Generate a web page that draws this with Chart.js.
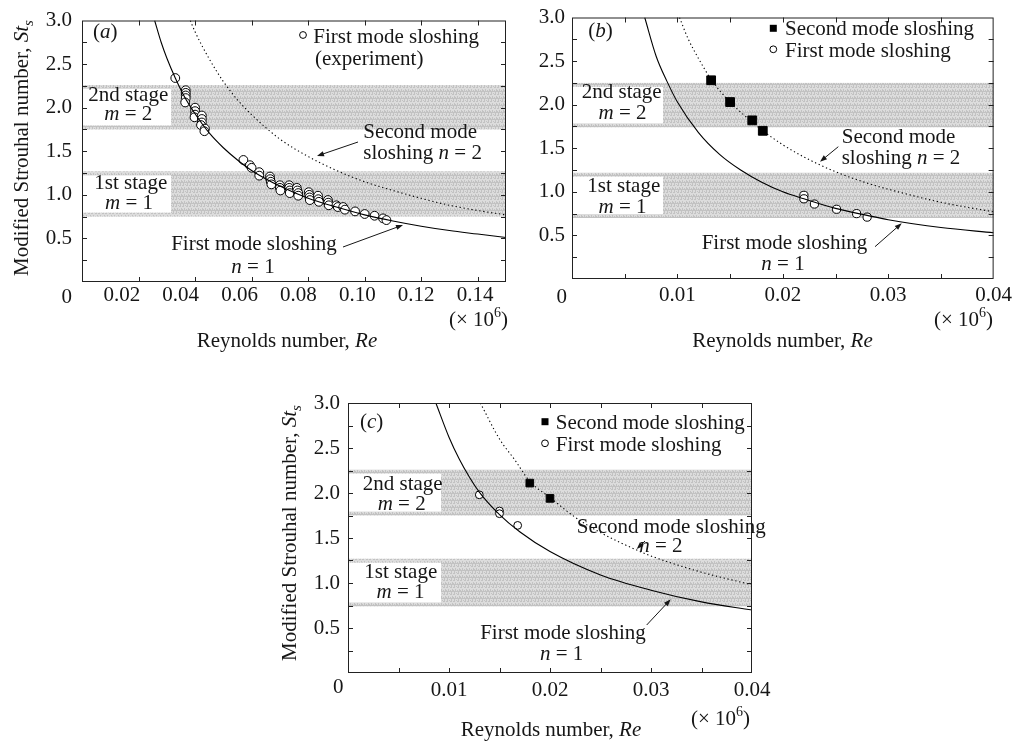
<!DOCTYPE html>
<html>
<head>
<meta charset="utf-8">
<script src="https://cdn.jsdelivr.net/npm/chart.js@4.4.1/dist/chart.umd.min.js"></script>
<style>
  html, body { margin: 0; padding: 0; background: #fff; }
  body { width: 1018px; height: 741px; position: relative; overflow: hidden; }
  canvas { position: absolute; }
</style>
</head>
<body>
<canvas id="panelA" width="512" height="360" style="left:0;top:0;width:512px;height:360px"></canvas>
<canvas id="panelB" width="506" height="360" style="left:512px;top:0;width:506px;height:360px"></canvas>
<canvas id="panelC" width="530" height="381" style="left:250px;top:360px;width:530px;height:381px"></canvas>
<script>
// ---- (a) experiment: first mode sloshing ----
const reA = [0.0330,
  0.0367, 0.0367, 0.0367, 0.0367, 0.0365,
  0.0400, 0.0400, 0.0400, 0.0398,
  0.0424, 0.0424, 0.0424, 0.0421,
  0.0435, 0.0433,
  0.0571, 0.0594, 0.0600,
  0.0627, 0.0627,
  0.0665, 0.0666, 0.0668, 0.0670,
  0.0700, 0.0700, 0.0702,
  0.0733, 0.0733, 0.0735, 0.0735,
  0.0760, 0.0762, 0.0765, 0.0765,
  0.0802, 0.0804, 0.0805, 0.0806,
  0.0835, 0.0836, 0.0838,
  0.0870, 0.0871, 0.0873,
  0.0900, 0.0905,
  0.0924, 0.0930,
  0.0966, 0.1000, 0.1035, 0.1065, 0.1077];
const stA = [2.34,
  2.20, 2.17, 2.14, 2.11, 2.06,
  2.00, 1.96, 1.92, 1.89,
  1.91, 1.87, 1.83, 1.80,
  1.76, 1.73,
  1.40, 1.34, 1.31,
  1.26, 1.22,
  1.21, 1.18, 1.15, 1.12,
  1.11, 1.08, 1.05,
  1.11, 1.08, 1.05, 1.02,
  1.08, 1.05, 1.02, 0.99,
  1.03, 1.00, 0.97, 0.94,
  0.99, 0.95, 0.92,
  0.94, 0.91, 0.88,
  0.88, 0.86,
  0.86, 0.83,
  0.81, 0.78, 0.76, 0.73, 0.71];
// (a) theory curves, n = 1 and n = 2
const reA1 = [0.0257, 0.028, 0.030, 0.033, 0.036, 0.040, 0.045, 0.050, 0.055, 0.060, 0.070, 0.080, 0.090, 0.100, 0.110, 0.120, 0.130, 0.140, 0.150];
const stA1 = [3.00, 2.75, 2.57, 2.34, 2.14, 1.93, 1.71, 1.54, 1.40, 1.28, 1.10, 0.96, 0.86, 0.77, 0.70, 0.64, 0.59, 0.55, 0.51];
const reA2 = [0.0383, 0.040, 0.045, 0.050, 0.055, 0.060, 0.070, 0.080, 0.090, 0.100, 0.110, 0.120, 0.130, 0.140, 0.150];
const stA2 = [3.00, 2.87, 2.56, 2.30, 2.09, 1.92, 1.64, 1.44, 1.28, 1.15, 1.05, 0.96, 0.88, 0.82, 0.77];
const bandsA = [[0.75, 1.27], [1.75, 2.26]];

// ---- (b) ----
const reB1 = [0.0069, 0.0080, 0.0090, 0.0100, 0.0120, 0.0140, 0.0160, 0.0180, 0.0200, 0.0220, 0.0250, 0.0280, 0.0300, 0.0350, 0.0400];
const stB1 = [3.00, 2.55, 2.27, 2.03, 1.68, 1.43, 1.25, 1.11, 1.00, 0.92, 0.81, 0.73, 0.68, 0.59, 0.53];
const reB2 = [0.0102, 0.0110, 0.0120, 0.0132, 0.0150, 0.0170, 0.0180, 0.0200, 0.0220, 0.0250, 0.0280, 0.0300, 0.0350, 0.0400];
const stB2 = [3.00, 2.76, 2.53, 2.29, 2.03, 1.81, 1.71, 1.54, 1.40, 1.23, 1.10, 1.03, 0.88, 0.77];
const reBsecond = [0.0132, 0.0150, 0.0171, 0.0181];
const stBsecond = [2.28, 2.03, 1.82, 1.70];
const reBfirst = [0.0220, 0.0220, 0.0230, 0.0251, 0.0270, 0.0280];
const stBfirst = [0.96, 0.92, 0.86, 0.80, 0.75, 0.71];
const bandsB = [[0.70, 1.22], [1.74, 2.25]];

// ---- (c) ----
const reC1 = [0.0087, 0.0100, 0.0110, 0.0120, 0.0130, 0.0150, 0.0170, 0.0200, 0.0250, 0.0300, 0.0350, 0.0400];
const stC1 = [3.00, 2.62, 2.38, 2.18, 2.01, 1.76, 1.57, 1.35, 1.09, 0.92, 0.79, 0.70];
const reC2 = [0.0131, 0.0150, 0.0165, 0.0180, 0.0200, 0.0225, 0.0250, 0.0285, 0.0300, 0.0350, 0.0400];
const stC2 = [3.00, 2.60, 2.37, 2.13, 1.95, 1.73, 1.56, 1.37, 1.30, 1.12, 0.98];
const reCsecond = [0.0180, 0.0200];
const stCsecond = [2.11, 1.94];
const reCfirst = [0.0130, 0.0150, 0.0150, 0.0168];
const stCfirst = [1.98, 1.80, 1.77, 1.64];
const bandsC = [[0.74, 1.27], [1.75, 2.26]];

const INK = '#161616';
const SERIF = '"Liberation Serif", "Times New Roman", serif';
Chart.defaults.font.family = SERIF;
Chart.defaults.font.size = 21;
Chart.defaults.color = INK;

const RUNSTYLE = {
  n:   { size: 21, italic: false, dy: 0 },
  i:   { size: 21, italic: true,  dy: 0 },
  sub: { size: 15, italic: true,  dy: 5 },
  sup: { size: 14, italic: false, dy: -9 }
};
const fontOf = s => (s.italic ? 'italic ' : '') + s.size + 'px ' + SERIF;

// "*x*" italic, "_{x}" subscript, "^{x}" superscript
function parseRuns(str) {
  const runs = [];
  const re = /\*([^*]+)\*|_\{([^}]+)\}|\^\{([^}]+)\}|([^*_^]+)/g;
  let m;
  while ((m = re.exec(str))) {
    if (m[1]) runs.push([m[1], 'i']);
    else if (m[2]) runs.push([m[2], 'sub']);
    else if (m[3]) runs.push([m[3], 'sup']);
    else runs.push([m[4], 'n']);
  }
  return runs;
}

function drawRich(ctx, str, x, y, align) {
  const runs = parseRuns(str);
  let w = 0;
  runs.forEach(([t, s]) => { ctx.font = fontOf(RUNSTYLE[s]); w += ctx.measureText(t).width; });
  let cx = align === 'center' ? x - w / 2 : align === 'right' ? x - w : x;
  ctx.textAlign = 'left';
  ctx.textBaseline = 'alphabetic';
  ctx.fillStyle = INK;
  runs.forEach(([t, s]) => {
    const st = RUNSTYLE[s];
    ctx.font = fontOf(st);
    ctx.fillText(t, cx, y + st.dy);
    cx += ctx.measureText(t).width;
  });
}

function arrow(ctx, x0, y0, x1, y1) {
  const a = Math.atan2(y1 - y0, x1 - x0), L = 7, W = 2.6;
  const c = Math.cos(a), s = Math.sin(a);
  ctx.beginPath();
  ctx.moveTo(x0, y0);
  ctx.lineTo(x1 - L * 0.7 * c, y1 - L * 0.7 * s);
  ctx.stroke();
  ctx.beginPath();
  ctx.moveTo(x1, y1);
  ctx.lineTo(x1 - L * c + W * s, y1 - L * s - W * c);
  ctx.lineTo(x1 - L * c - W * s, y1 - L * s + W * c);
  ctx.closePath();
  ctx.fill();
}

// fine halftone grey for the stage bands
function bandPattern(ctx) {
  const n = 7;
  const c = document.createElement('canvas');
  c.width = n; c.height = n;
  const g = c.getContext('2d');
  g.fillStyle = '#dcdcdc';
  g.fillRect(0, 0, n, n);
  g.fillStyle = '#c2c2c2';
  for (let i = 0; i < n; i++) {
    for (let j = 0; j < n; j++) {
      if ((i * 3 + j * 5 + ((i * j) % 4)) % 3 === 0) g.fillRect(i, j, 1, 1);
    }
  }
  return ctx.createPattern(c, 'repeat');
}

const toPoints = (xs, ys) => xs.map((x, i) => ({ x, y: ys[i] }));

// shaded stage bands, frame, inward ticks and all the lettering
function decor(p) {
  return {
    id: 'decor',
    beforeDatasetsDraw(chart) {
      const { ctx, chartArea: a, scales: { y } } = chart;
      ctx.save();
      p.bands.forEach(([lo, hi]) => {
        const top = y.getPixelForValue(hi), bot = y.getPixelForValue(lo);
        ctx.fillStyle = bandPattern(ctx);
        ctx.fillRect(a.left, top, a.right - a.left, bot - top);
        // white plate behind the stage caption
        ctx.fillStyle = '#fff';
        ctx.fillRect(a.left + 1, top + 4, p.plateW, bot - top - 8);
      });
      ctx.restore();
    },
    afterDatasetsDraw(chart) {
      const { ctx, chartArea: a, scales: { x, y } } = chart;
      ctx.save();
      ctx.strokeStyle = '#222';
      ctx.lineWidth = 1;
      ctx.strokeRect(a.left + 0.5, a.top + 0.5, a.right - a.left - 1, a.bottom - a.top - 1);
      ctx.beginPath();
      x.ticks.forEach(t => {
        const px = Math.round(x.getPixelForValue(t.value)) + 0.5;
        if (px <= a.left + 1 || px >= a.right - 1) return;
        ctx.moveTo(px, a.bottom); ctx.lineTo(px, a.bottom - 5);
        ctx.moveTo(px, a.top); ctx.lineTo(px, a.top + 5);
      });
      y.ticks.forEach(t => {
        const py = Math.round(y.getPixelForValue(t.value)) + 0.5;
        if (py <= a.top + 1 || py >= a.bottom - 1) return;
        ctx.moveTo(a.left, py); ctx.lineTo(a.left + 5, py);
        ctx.moveTo(a.right, py); ctx.lineTo(a.right - 5, py);
      });
      ctx.stroke();
      ctx.restore();
    },
    afterDraw(chart) {
      const ctx = chart.ctx;
      ctx.save();
      p.texts.forEach(t => {
        if (t.rot) {
          ctx.save();
          ctx.translate(t.x, t.y);
          ctx.rotate(-Math.PI / 2);
          drawRich(ctx, t.t, 0, 0, 'center');
          ctx.restore();
        } else {
          drawRich(ctx, t.t, t.x, t.y, t.align || 'left');
        }
      });
      ctx.strokeStyle = INK;
      ctx.fillStyle = INK;
      ctx.lineWidth = 1;
      p.arrows.forEach(r => arrow(ctx, r[0], r[1], r[2], r[3]));
      // legend glyphs
      p.keys.forEach(k => {
        ctx.lineWidth = 1;
        if (k.kind === 'square') {
          ctx.fillStyle = '#000';
          ctx.fillRect(k.x - 3.5, k.y - 3.5, 7, 7);
        } else {
          ctx.beginPath();
          ctx.arc(k.x, k.y, 3.4, 0, Math.PI * 2);
          ctx.fillStyle = '#fff';
          ctx.fill();
          ctx.strokeStyle = '#000';
          ctx.stroke();
        }
      });
      ctx.restore();
    }
  };
}

function buildPanel(p) {
  const tickFont = { family: SERIF, size: 21, lineHeight: 1 };
  const datasets = [
    {
      label: 'First mode sloshing, n = 1',
      data: toPoints(p.re1, p.st1),
      showLine: true, pointRadius: 0, borderColor: '#000', borderWidth: 1.1,
      cubicInterpolationMode: 'monotone'
    },
    {
      label: 'Second mode sloshing, n = 2',
      data: toPoints(p.re2, p.st2),
      showLine: true, pointRadius: 0, borderColor: '#000', borderWidth: 1.1,
      borderDash: [1.3, 2.7], cubicInterpolationMode: 'monotone'
    }
  ];
  if (p.reSecond) {
    datasets.push({
      label: 'Second mode sloshing',
      data: toPoints(p.reSecond, p.stSecond),
      showLine: false, pointStyle: 'rect', pointRadius: p.sqR,
      pointBackgroundColor: '#000', pointBorderColor: '#000', pointBorderWidth: 1
    });
  }
  datasets.push({
    label: 'First mode sloshing',
    data: toPoints(p.reFirst, p.stFirst),
    showLine: false, pointStyle: 'circle', pointRadius: p.ciR,
    pointBackgroundColor: '#fff', pointBorderColor: '#000', pointBorderWidth: 1
  });

  const scales = {
    x: {
      type: 'linear', position: 'bottom', min: 0, max: p.xMax,
      grid: { display: false, drawTicks: false }, border: { display: false },
      ticks: {
        stepSize: p.xStep, includeBounds: false, autoSkip: false, maxRotation: 0,
        display: !p.labelAxis, padding: p.xPad, font: tickFont, color: INK,
        callback: v => {
          const k = Math.round(v * 1000);
          return k !== 0 && k % 10 === 0 ? v.toFixed(2) : '';
        }
      },
      afterFit: s => { s.height = p.labelAxis ? 0 : p.xH; }
    },
    y: {
      type: 'linear', position: 'left', min: 0, max: 3,
      grid: { display: false, drawTicks: false }, border: { display: false },
      ticks: {
        stepSize: 0.25, autoSkip: false, padding: p.yPad, font: tickFont, color: INK,
        callback: v => {
          const k = Math.round(v * 100);
          return k !== 0 && k % 50 === 0 ? v.toFixed(1) : '';
        }
      },
      afterFit: s => { s.width = p.yW; }
    }
  };
  if (p.labelAxis) {
    // tick numbers of panel (a) sit on their own, slightly wider spacing
    scales.xl = {
      type: 'linear', position: 'bottom', min: p.labelAxis[0], max: p.labelAxis[1],
      grid: { display: false, drawTicks: false }, border: { display: false },
      ticks: {
        stepSize: 0.02, includeBounds: false, autoSkip: false, maxRotation: 0,
        padding: p.xPad, font: tickFont, color: INK,
        callback: v => v.toFixed(2)
      },
      afterFit: s => { s.height = p.xH; }
    };
  }

  return new Chart(document.getElementById(p.canvas), {
    type: 'scatter',
    data: { datasets },
    options: {
      responsive: false,
      animation: false,
      events: [],
      layout: { padding: { top: p.padTop, right: p.padRight, left: 0, bottom: 0 } },
      plugins: { legend: { display: false }, tooltip: { enabled: false } },
      scales
    },
    plugins: [decor(p)]
  });
}

buildPanel({
  canvas: 'panelA', xMax: 0.15, xStep: 0.02, labelAxis: [0.0065, 0.1505],
  yW: 82, xH: 78, padTop: 13, padRight: 6, yPad: 10, xPad: 3,
  re1: reA1, st1: stA1, re2: reA2, st2: stA2,
  reFirst: reA, stFirst: stA, ciR: 4.4,
  bands: bandsA, plateW: 88,
  texts: [
    { t: 'Modified Strouhal number, *St*_{s}', x: 27.5, y: 148, rot: true },
    { t: 'Reynolds number, *Re*', x: 287, y: 346.5, align: 'center' },
    { t: '(× 10^{6})', x: 508, y: 326, align: 'right' },
    { t: '0', x: 66.7, y: 302.7, align: 'center' },
    { t: '(*a*)', x: 93, y: 38 },
    { t: 'First mode sloshing', x: 313.3, y: 42.5 },
    { t: '(experiment)', x: 315, y: 65 },
    { t: 'Second mode', x: 363.3, y: 137.5 },
    { t: 'sloshing *n* = 2', x: 363.3, y: 158.5 },
    { t: 'First mode sloshing', x: 254, y: 250, align: 'center' },
    { t: '*n* = 1', x: 253, y: 273, align: 'center' },
    { t: '2nd stage', x: 128.3, y: 101, align: 'center' },
    { t: '*m* = 2', x: 128.3, y: 120, align: 'center' },
    { t: '1st stage', x: 130.8, y: 189, align: 'center' },
    { t: '*m* = 1', x: 129, y: 208.5, align: 'center' }
  ],
  arrows: [[358, 142, 317, 156], [343, 247, 403, 225]],
  keys: [{ kind: 'circle', x: 303, y: 35 }]
});

buildPanel({
  canvas: 'panelB', xMax: 0.04, xStep: 0.005,
  yW: 60, xH: 81, padTop: 12, padRight: 21, yPad: 7, xPad: 6,
  re1: reB1, st1: stB1, re2: reB2, st2: stB2,
  reSecond: reBsecond, stSecond: stBsecond, sqR: 6.2,
  reFirst: reBfirst, stFirst: stBfirst, ciR: 4.1,
  bands: bandsB, plateW: 90,
  texts: [
    { t: 'Reynolds number, *Re*', x: 270.5, y: 346.5, align: 'center' },
    { t: '(× 10^{6})', x: 481, y: 326, align: 'right' },
    { t: '0', x: 49.7, y: 303, align: 'center' },
    { t: '(*b*)', x: 76.3, y: 37 },
    { t: 'Second mode sloshing', x: 273, y: 34.7 },
    { t: 'First mode sloshing', x: 273, y: 56.5 },
    { t: '2nd stage', x: 109.7, y: 98, align: 'center' },
    { t: '*m* = 2', x: 110.5, y: 119, align: 'center' },
    { t: '1st stage', x: 111.8, y: 192, align: 'center' },
    { t: '*m* = 1', x: 110.5, y: 212.5, align: 'center' },
    { t: 'Second mode', x: 329.7, y: 143.3 },
    { t: 'sloshing *n* = 2', x: 329.7, y: 164 },
    { t: 'First mode sloshing', x: 272.5, y: 249, align: 'center' },
    { t: '*n* = 1', x: 271, y: 269.5, align: 'center' }
  ],
  arrows: [[326.3, 146.7, 308, 161.7], [363, 246.7, 389.7, 223.3]],
  keys: [{ kind: 'square', x: 261.3, y: 28.3 }, { kind: 'circle', x: 261.3, y: 49.3 }]
});

buildPanel({
  canvas: 'panelC', xMax: 0.04, xStep: 0.005,
  yW: 98, xH: 68, padTop: 43, padRight: 28, yPad: 8, xPad: 7,
  re1: reC1, st1: stC1, re2: reC2, st2: stC2,
  reSecond: reCsecond, stSecond: stCsecond, sqR: 5.4,
  reFirst: reCfirst, stFirst: stCfirst, ciR: 3.9,
  bands: bandsC, plateW: 92,
  texts: [
    { t: 'Modified Strouhal number, *St*_{s}', x: 45.5, y: 173, rot: true },
    { t: 'Reynolds number, *Re*', x: 301, y: 375.5, align: 'center' },
    { t: '(× 10^{6})', x: 500, y: 365, align: 'right' },
    { t: '0', x: 88.3, y: 333, align: 'center' },
    { t: '(*c*)', x: 110, y: 68 },
    { t: 'Second mode sloshing', x: 305.7, y: 69 },
    { t: 'First mode sloshing', x: 305.7, y: 90.5 },
    { t: '2nd stage', x: 152.7, y: 130, align: 'center' },
    { t: '*m* = 2', x: 151.7, y: 150, align: 'center' },
    { t: '1st stage', x: 150.8, y: 218, align: 'center' },
    { t: '*m* = 1', x: 150.5, y: 238, align: 'center' },
    { t: 'Second mode sloshing', x: 326.7, y: 173 },
    { t: '*n* = 2', x: 410.8, y: 191.7, align: 'center' },
    { t: 'First mode sloshing', x: 313, y: 279, align: 'center' },
    { t: '*n* = 1', x: 311.7, y: 300, align: 'center' }
  ],
  arrows: [[395, 181, 386.7, 189], [396.7, 265, 420.7, 239.3]],
  keys: [{ kind: 'square', x: 295, y: 61.7 }, { kind: 'circle', x: 295, y: 83.3 }]
});
</script>
</body>
</html>
